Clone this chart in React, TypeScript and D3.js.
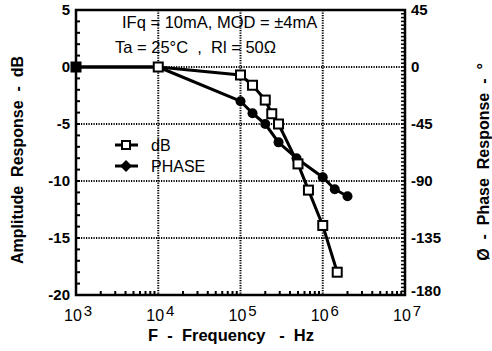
import React from "react";
import * as d3 from "d3";

const freqDb = [1e3, 1e4, 1e5, 1.4e5, 2e5, 2.4e5, 2.9e5, 5e5, 6.7e5, 1e6, 1.5e6];
const dbValues = [0, 0, -0.7, -1.6, -2.9, -4.1, -5.0, -8.5, -10.8, -13.9, -18.0];
const freqPhase = [1e3, 1e4, 1e5, 1.4e5, 2e5, 2.9e5, 4.8e5, 1e6, 1.4e6, 2e6];
const phaseValues = [0, 0, -27, -36.5, -45, -59.5, -72, -87, -96.5, -102];

const dbTicks = [5, 0, -5, -10, -15, -20];
const phaseTicks = [45, 0, -45, -90, -135, -180];
const decadeExps = [3, 4, 5, 6, 7];

const W = 492, H = 351;
const L = 76, R = 405, T = 10, B = 295;

export default function App() {
  const x = d3.scaleLog().domain([1e3, 1e7]).range([L, R]);
  const yDb = d3.scaleLinear().domain([-20, 5]).range([B, T]);
  const yPh = d3.scaleLinear().domain([-180, 45]).range([B, T]);

  const dbPts: [number, number][] = freqDb.map((f, i) => [x(f), yDb(dbValues[i])]);
  const phPts: [number, number][] = freqPhase.map((f, i) => [x(f), yPh(phaseValues[i])]);
  const line = d3.line();

  const minorX: number[] = [];
  for (let e = 3; e < 7; e++) for (let m = 2; m <= 9; m++) minorX.push(m * Math.pow(10, e));
  const minorDb = d3.range(-19, 5);
  const minorPh = d3.range(-180, 46, 3);

  const font = "'Liberation Sans', Arial, Helvetica, sans-serif";
  const grid = { stroke: "#000", strokeWidth: 2, strokeDasharray: "1.2,1.3" };

  return (
    <svg width={W} height={H} style={{ position: "absolute", left: 0, top: 0, background: "#fff" }} fontFamily={font}>
      {/* grid */}
      {[1e4, 1e5, 1e6].map((f) => (
        <line key={"gx" + f} x1={x(f)} x2={x(f)} y1={T} y2={B} {...grid} />
      ))}
      {[0, -5, -10, -15].map((v) => (
        <line key={"gy" + v} x1={L} x2={R} y1={yDb(v)} y2={yDb(v)} {...grid} />
      ))}
      {/* minor ticks */}
      {minorDb.map((v) => (
        <line key={"md" + v} x1={L} x2={L + 4} y1={yDb(v)} y2={yDb(v)} stroke="#000" strokeWidth={2} />
      ))}
      {minorPh.map((v) => (
        <line key={"mp" + v} x1={R - 4} x2={R} y1={yPh(v)} y2={yPh(v)} stroke="#000" strokeWidth={1.5} />
      ))}
      {minorX.map((f) => (
        <line key={"mx" + f} x1={x(f)} x2={x(f)} y1={B} y2={B - 4} stroke="#000" strokeWidth={2} />
      ))}
      {/* frame */}
      <rect x={L} y={T} width={R - L} height={B - T} fill="none" stroke="#000" strokeWidth={2.5} />

      {/* left tick labels */}
      {dbTicks.map((v) => (
        <text key={"ld" + v} x={70} y={yDb(v)} dy="0.36em" textAnchor="end" fontSize={15} fontWeight="bold">
          {v}
        </text>
      ))}
      {/* right tick labels */}
      {phaseTicks.map((v) => (
        <text key={"rp" + v} x={411} y={v === -180 ? yPh(v) - 4 : yPh(v)} dy="0.36em" textAnchor="start" fontSize={15} fontWeight="bold">
          {v}
        </text>
      ))}
      {/* bottom tick labels */}
      {decadeExps.map((e) => (
        <text key={"bx" + e} x={x(Math.pow(10, e)) - 12} y={321} fontSize={16}>
          <tspan>10</tspan>
          <tspan dx={2} dy={-5} fontSize={15}>{e}</tspan>
        </text>
      ))}

      {/* axis titles */}
      <text x={231} y={341} textAnchor="middle" fontSize={16.5} fontWeight="bold" style={{ whiteSpace: "pre" }}>
        {"F  -  Frequency   -  Hz"}
      </text>
      <text transform="translate(23,160) rotate(-90)" textAnchor="middle" fontSize={16} fontWeight="bold" style={{ whiteSpace: "pre" }}>
        {"Amplitude  Response  -  dB"}
      </text>
      <text transform="translate(489,162) rotate(-90)" textAnchor="middle" fontSize={16} fontWeight="bold" style={{ whiteSpace: "pre" }}>
        {"Ø  -  Phase  Response  -  °"}
      </text>

      {/* annotation */}
      <text x={122} y={28} fontSize={16.5} style={{ whiteSpace: "pre" }}>
        {"IFq = 10mA, MOD = ±4mA"}
      </text>
      <text x={115} y={53} fontSize={16.5} style={{ whiteSpace: "pre" }}>
        {"Ta = 25°C  ,  Rl = 50Ω"}
      </text>

      {/* legend */}
      <line x1={115} x2={138} y1={145} y2={145} stroke="#000" strokeWidth={3} />
      <rect x={122} y={141} width={8} height={8} fill="#fff" stroke="#000" strokeWidth={2} />
      <text x={151} y={151} fontSize={16}>dB</text>
      <line x1={115} x2={138} y1={166} y2={166} stroke="#000" strokeWidth={3} />
      <path d="M126,160 L132,166 L126,172 L120,166 Z" fill="#000" />
      <text x={151} y={172} fontSize={16}>PHASE</text>

      {/* data lines */}
      <path d={line(phPts) || ""} fill="none" stroke="#000" strokeWidth={3} strokeLinejoin="round" />
      <path d={line(dbPts) || ""} fill="none" stroke="#000" strokeWidth={3} strokeLinejoin="round" />
      {phPts.map(([px, py], i) => (
        <circle key={"pc" + i} cx={px} cy={py} r={5} fill="#000" />
      ))}
      {dbPts.map(([px, py], i) => (
        <rect key={"dr" + i} x={px - 4.5} y={py - 4.5} width={9} height={9} fill={i === 0 ? "#000" : "#fff"} stroke="#000" strokeWidth={2} />
      ))}
      <circle cx={phPts[0][0]} cy={phPts[0][1]} r={5} fill="#000" />
    </svg>
  );
}
